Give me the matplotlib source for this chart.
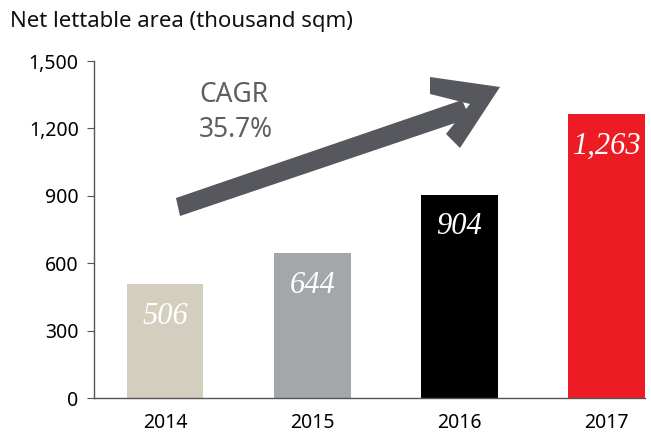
import numpy as np
import matplotlib.pyplot as plt
from matplotlib.patches import Polygon

# === DONNEES ===
years = ["2014", "2015", "2016", "2017"]
nla = [506, 644, 904, 1263]
labels = ["506", "644", "904", "1,263"]
bar_colors = ["#d3cebe", "#a4a7aa", "#000000", "#ed1c24"]
yticks = [0, 300, 600, 900, 1200, 1500]
ytick_labels = ["0", "300", "600", "900", "1,200", "1,500"]
cagr_lines = ["CAGR", "35.7%"]

plt.rcParams["font.family"] = ["Noto Sans", "DejaVu Sans"]

fig = plt.figure(figsize=(6.51, 4.33), dpi=100)
ax = fig.add_axes([0.1444, 0.0808, 0.8464, 0.7782])

x = np.arange(len(years))
ax.bar(x, nla, width=0.52, color=bar_colors)

# etiquettes de valeur (ligne de base sous le haut de la barre)
for xi, v, lab in zip(x, nla, labels):
    ax.text(xi, v - 175, lab, ha="center", va="baseline", color="white",
            fontsize=22, style="italic", family="Liberation Serif")

ax.set_xlim(-0.482, 3.26)
ax.set_ylim(0, 1500)
ax.set_xticks(x)
ax.set_xticklabels(years)
ax.set_yticks(yticks)
ax.set_yticklabels(ytick_labels)

for side in ["top", "right"]:
    ax.spines[side].set_visible(False)
for side in ["left", "bottom"]:
    ax.spines[side].set_color("#555555")
    ax.spines[side].set_linewidth(1.0)
ax.tick_params(axis="y", length=5, color="#555555", labelsize=14, pad=6)
ax.tick_params(axis="x", length=0, labelsize=14, pad=11)

fig.text(10 / 651, 1 - 21 / 433, "Net lettable area (thousand sqm)",
         fontsize=16, ha="left", va="center", color="#111111")

fig.text(199 / 651, 1 - 102 / 433, cagr_lines[0], fontsize=19, color="#5f5f5f",
         ha="left", va="baseline")
fig.text(199 / 651, 1 - 137 / 433, cagr_lines[1], fontsize=19, color="#5f5f5f",
         ha="left", va="baseline")

# fleche CAGR (en pixels de la figure)
W, H = 651, 433
def px(pts):
    return [(a / W, 1 - b / H) for a, b in pts]

arrow_color = "#56585d"
shaft = [(176, 198), (462, 100), (470, 118), (180, 216)]
head = [(430, 77), (500, 87), (460, 148), (446, 134), (470, 104), (430, 94)]
fig.patches.append(Polygon(px(shaft), closed=True, transform=fig.transFigure,
                           color=arrow_color, lw=0))
fig.patches.append(Polygon(px(head), closed=True, transform=fig.transFigure,
                           color=arrow_color, lw=0))

fig.savefig("out.png", dpi=100)
